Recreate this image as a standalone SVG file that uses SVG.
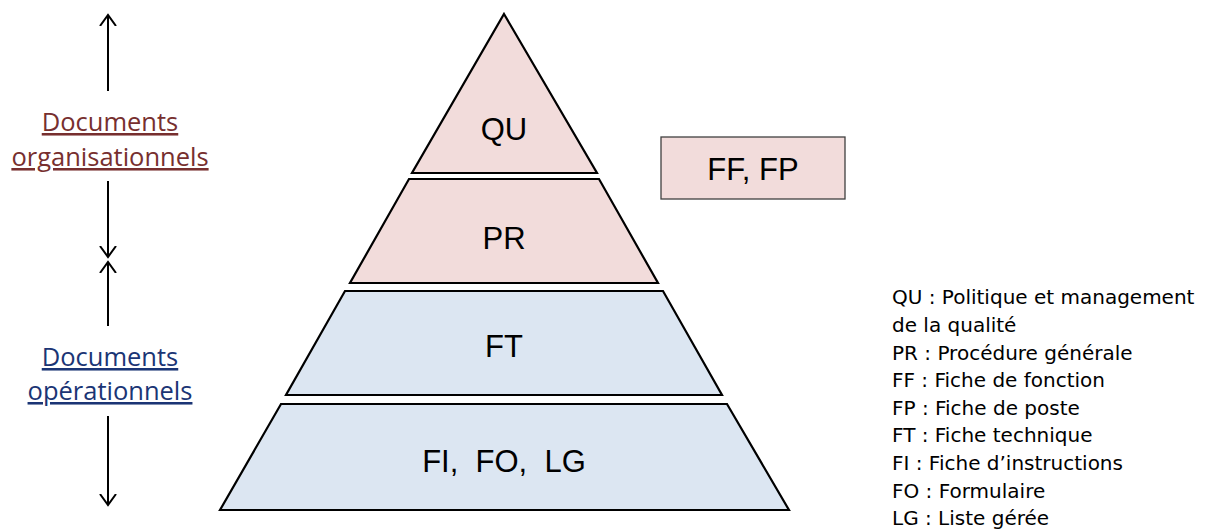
<svg xmlns="http://www.w3.org/2000/svg" width="1230" height="529" viewBox="0 0 1230 529">
<defs>
<marker id="open" viewBox="0 0 20 20" refX="11" refY="10" markerWidth="20" markerHeight="20" markerUnits="userSpaceOnUse" orient="auto">
<path d="M0,2 L11,10 L0,18" fill="none" stroke="#000" stroke-width="2"/>
</marker>
<style>
.pink{fill:#F2DCDB;stroke:#000;stroke-width:2.2;stroke-linejoin:miter}
.blue{fill:#DCE6F2;stroke:#000;stroke-width:2.2;stroke-linejoin:miter}
.lbl{font-family:"Liberation Sans",Arial,sans-serif;font-size:31px;fill:#000;text-anchor:middle}
.leg{font-family:"DejaVu Sans","Liberation Sans",sans-serif;font-size:20px;fill:#000}
.side{font-family:"Open Sans","Liberation Sans",sans-serif;font-size:25.5px;text-anchor:middle;text-decoration:underline}
.arr{stroke:#000;stroke-width:2;fill:none;marker-end:url(#open)}
</style>
</defs>
<rect width="1230" height="529" fill="#fff"/>
<g id="connectors">
<line class="arr" x1="108" y1="91" x2="108" y2="15"/>
<line class="arr" x1="108" y1="181" x2="108" y2="257"/>
<line class="arr" x1="108" y1="326" x2="108" y2="262"/>
<line class="arr" x1="108" y1="416" x2="108" y2="505"/>
</g>
<g id="label-org">
<text class="side" x="110" y="131" fill="#772F2F">Documents</text>
<text class="side" x="110" y="166" fill="#772F2F">organisationnels</text>
</g>
<g id="label-op">
<text class="side" x="110" y="366" fill="#1B3575">Documents</text>
<text class="side" x="110" y="400" fill="#1B3575">opérationnels</text>
</g>
<g id="node-qu">
<polygon class="pink" points="504,14 597,173 412,173"/>
<text class="lbl" x="504" y="140">QU</text>
</g>
<g id="node-pr">
<polygon class="pink" points="409,179 599,179 658,283 350,283"/>
<text class="lbl" x="504" y="249">PR</text>
</g>
<g id="node-ft">
<polygon class="blue" points="345,291 663,291 722,395 286,395"/>
<text class="lbl" x="504" y="357">FT</text>
</g>
<g id="node-fi">
<polygon class="blue" points="281,404 727,404 789,510 220,510"/>
<text class="lbl" x="504" y="472" xml:space="preserve">FI,  FO,  LG</text>
</g>
<g id="node-ffp">
<rect x="661" y="137" width="184" height="62" fill="#F2DCDB" stroke="#404040" stroke-width="1.3"/>
<text class="lbl" x="753" y="180">FF, FP</text>
</g>
<g id="legend">
<text class="leg" x="892" y="304">QU : Politique et management</text>
<text class="leg" x="892" y="332">de la qualité</text>
<text class="leg" x="892" y="360">PR : Procédure générale</text>
<text class="leg" x="892" y="387">FF : Fiche de fonction</text>
<text class="leg" x="892" y="415">FP : Fiche de poste</text>
<text class="leg" x="892" y="442">FT : Fiche technique</text>
<text class="leg" x="892" y="470">FI : Fiche d’instructions</text>
<text class="leg" x="892" y="498">FO : Formulaire</text>
<text class="leg" x="892" y="525">LG : Liste gérée</text>
</g>
</svg>
